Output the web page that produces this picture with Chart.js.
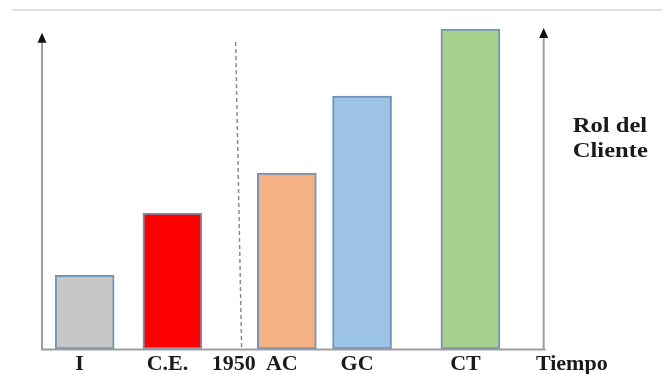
<!DOCTYPE html>
<html>
<head>
<meta charset="utf-8">
<script src="https://cdn.jsdelivr.net/npm/chart.js@4/dist/chart.umd.min.js"></script>
<style>
  html, body { margin: 0; padding: 0; background: #ffffff; }
  #wrap { width: 662px; height: 374px; position: relative; }
</style>
</head>
<body>
<div id="wrap"><canvas id="c" width="662" height="374"></canvas></div>
<script>
// Eras of the customer's role, placed along a time line (0..100 = drawn axis)
const categories = ['I', 'C.E.', 'AC', 'GC', 'CT'];
const eraPositions = [8.5, 26, 48.8, 63.8, 85.4];
const rolCliente = [23, 42.5, 55, 79, 100];
const barColors = ['#c7c7c7', '#ff0000', '#f4b183', '#9dc3e6', '#a9d18e'];

// Divider between the earlier eras and the post-1950 ones
const dividerPosition = 39.2;
const dividerLabel = '1950';

// Axis labels
const timeAxisEnd = 100;
const timeLabelPosition = 106.6;
const timeLabel = 'Tiempo';
const valueAxisLabel = ['Rol del', 'Cliente'];

const serifBold = { family: "'Liberation Serif', 'Times New Roman', serif", weight: 'bold', size: 22, lineHeight: 1 };

function tickText(value) {
  const i = eraPositions.indexOf(value);
  if (i >= 0) return categories[i];
  if (value === dividerPosition) return dividerLabel;
  if (value === timeLabelPosition) return timeLabel;
  return '';
}

function arrowHead(ctx, x, tipY) {
  ctx.beginPath();
  ctx.moveTo(x, tipY);
  ctx.lineTo(x - 4.5, tipY + 10);
  ctx.lineTo(x + 4.5, tipY + 10);
  ctx.closePath();
  ctx.fill();
}

const framePlugin = {
  id: 'frame',
  beforeDraw(chart) {
    const ctx = chart.ctx;
    ctx.save();
    ctx.strokeStyle = '#e0e0e0';
    ctx.lineWidth = 2;
    ctx.beginPath();
    ctx.moveTo(12, 10);
    ctx.lineTo(chart.width, 10);
    ctx.stroke();
    ctx.restore();
  },
  afterDatasetsDraw(chart) {
    const ctx = chart.ctx;
    const xs = chart.scales.x, ys = chart.scales.y;
    const x0 = xs.getPixelForValue(0);
    const x1 = xs.getPixelForValue(timeAxisEnd);
    const base = ys.getPixelForValue(0) + 0.5;
    ctx.save();

    // dashed divider
    const xd = xs.getPixelForValue(dividerPosition);
    ctx.strokeStyle = '#8c8c8c';
    ctx.lineWidth = 1.5;
    ctx.setLineDash([4, 3]);
    ctx.beginPath();
    ctx.moveTo(xd - 3, ys.getPixelForValue(95.9));
    ctx.lineTo(xd + 3, base);
    ctx.stroke();
    ctx.setLineDash([]);

    // axes with arrows
    ctx.strokeStyle = '#9e9e9e';
    ctx.lineWidth = 2;
    ctx.beginPath();
    ctx.moveTo(x0 - 1, base);
    ctx.lineTo(x1 + 2, base);
    const leftTip = ys.getPixelForValue(98.8);
    const rightTip = ys.getPixelForValue(100.3);
    ctx.moveTo(x0, base);
    ctx.lineTo(x0, leftTip + 8);
    ctx.moveTo(x1, base);
    ctx.lineTo(x1, rightTip + 8);
    ctx.stroke();
    ctx.fillStyle = '#111111';
    arrowHead(ctx, x0, leftTip);
    arrowHead(ctx, x1, rightTip);

    // value axis caption (slightly widened serif)
    ctx.fillStyle = '#1a1a1a';
    ctx.font = "bold 21px 'Liberation Serif', 'Times New Roman', serif";
    ctx.textAlign = 'left';
    ctx.textBaseline = 'alphabetic';
    const tx = xs.getPixelForValue(105.8);
    const widen = 1.17;
    ctx.translate(tx, 0);
    ctx.scale(widen, 1);
    ctx.fillText(valueAxisLabel[0], 0, ys.getPixelForValue(67.8));
    ctx.fillText(valueAxisLabel[1], 0, ys.getPixelForValue(60));
    ctx.restore();
  }
};

new Chart(document.getElementById('c'), {
  type: 'bar',
  data: {
    datasets: [{
      label: 'Rol del Cliente',
      data: eraPositions.map((x, i) => ({ x: x, y: rolCliente[i] })),
      backgroundColor: barColors,
      borderColor: '#7593b6',
      borderWidth: 2,
      borderSkipped: false,
      barThickness: 59
    }]
  },
  options: {
    responsive: false,
    animation: false,
    devicePixelRatio: 1,
    layout: { padding: { left: 42, right: 18, top: 29, bottom: -5 } },
    plugins: { legend: { display: false }, tooltip: { enabled: false } },
    scales: {
      x: {
        type: 'linear',
        min: 0,
        max: 120,
        offset: false,
        grid: { display: false, drawTicks: false },
        border: { display: false },
        afterBuildTicks(scale) {
          scale.ticks = [...eraPositions, dividerPosition, timeLabelPosition]
            .sort((a, b) => a - b)
            .map(v => ({ value: v }));
        },
        ticks: {
          autoSkip: false,
          maxRotation: 0,
          padding: 4,
          labelOffset: -5,
          color: '#1a1a1a',
          font: serifBold,
          callback: (value) => tickText(value)
        }
      },
      y: {
        display: false,
        min: 0,
        max: 100
      }
    }
  },
  plugins: [framePlugin]
});
</script>
</body>
</html>
